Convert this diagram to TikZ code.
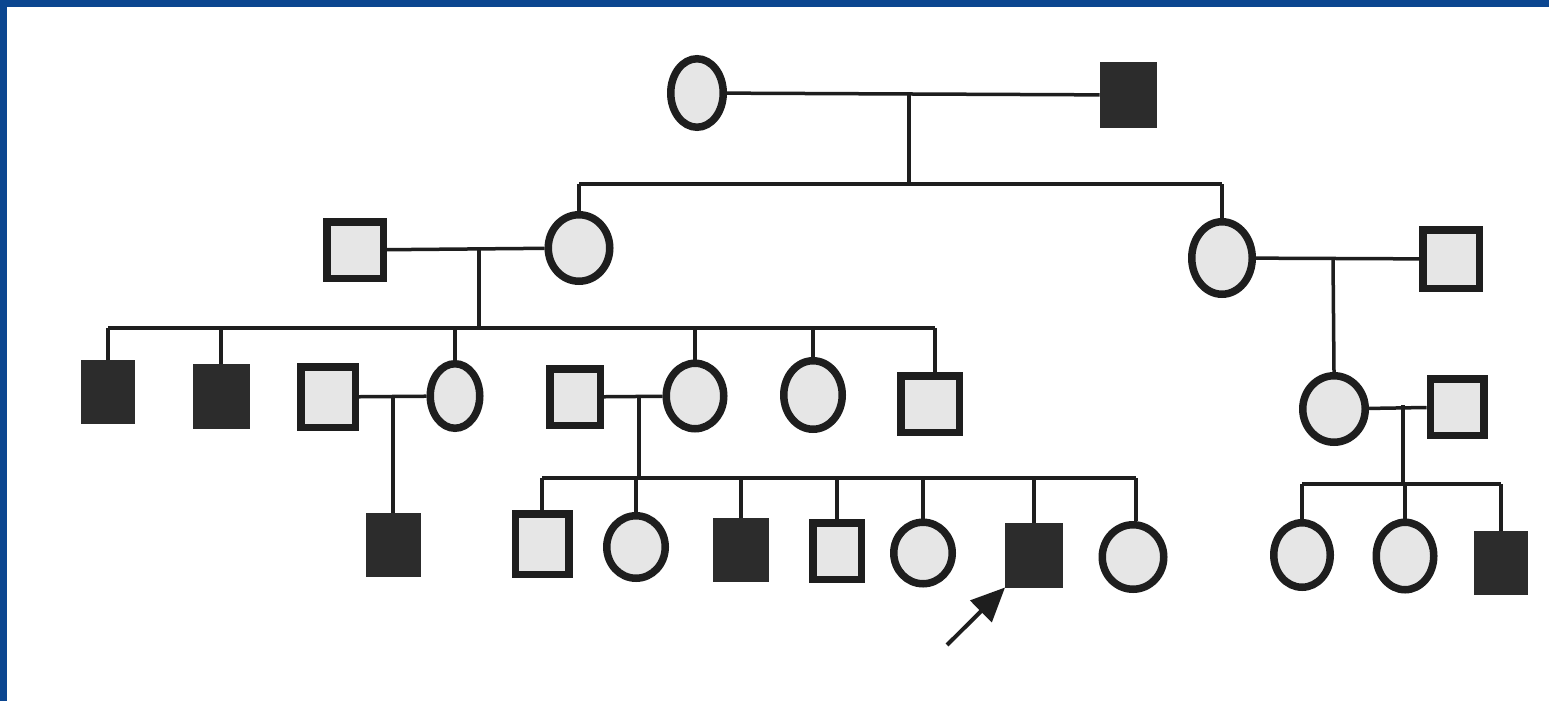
\documentclass[tikz,border=0pt]{standalone}
\usetikzlibrary{shapes.geometric,arrows.meta}
\definecolor{ink}{HTML}{1E1E1E}
\definecolor{dark}{HTML}{2C2C2C}
\definecolor{paper}{HTML}{E6E6E6}
\definecolor{frame}{HTML}{0B4690}
\tikzset{
  unsq/.style n args={2}{draw=ink, fill=paper, line width=7.5pt, rectangle, inner sep=0pt,
     minimum width=#1pt-7.5pt, minimum height=#2pt-7.5pt},
  uncirc/.style n args={2}{draw=ink, fill=paper, line width=7.5pt, ellipse, inner sep=0pt,
     minimum width=#1pt-7.5pt, minimum height=#2pt-7.5pt},
  affsq/.style n args={2}{draw=dark, fill=dark, line width=1pt, rectangle, inner sep=0pt,
     minimum width=#1pt-1pt, minimum height=#2pt-1pt},
  link/.style={draw=ink, line width=3.5pt},
  pointer/.style={draw=ink, line width=4pt, -{Triangle[length=34pt,width=30pt]}}
}
\begin{document}
\begin{tikzpicture}[x=1pt,y=-1pt]
\useasboundingbox (0,0) rectangle (1549,701);
\fill[white] (0,0) rectangle (1549,701);
\fill[frame] (0,0) rectangle (1549,7);
\fill[frame] (0,0) rectangle (7,701);

% levels of sibship lines
\coordinate (L2) at (0,184);
\coordinate (L3) at (0,328);
\coordinate (L4) at (0,478);
\coordinate (L4r) at (0,484);

% Generation I
\node[uncirc={60}{76}] (c1) at (697,93) {};
\node[affsq={57}{66}] (s1) at (1128,95) {};
% Generation II
\node[unsq={64}{64}] (s2) at (355,250) {};
\node[uncirc={69}{74}] (c2) at (579,248) {};
\node[uncirc={68}{80}] (c3) at (1222,258) {};
\node[unsq={64}{66}] (s3) at (1451,259) {};
% Generation III left
\node[affsq={54}{64}] (a1) at (108,392) {};
\node[affsq={57}{65}] (a2) at (221,396) {};
\node[unsq={62}{68}] (s4) at (328,397) {};
\node[uncirc={57}{72}] (c4) at (455,396) {};
\node[unsq={58}{64}] (s5) at (575,397) {};
\node[uncirc={65}{73}] (c5) at (695,396) {};
\node[uncirc={66}{76}] (c6) at (813,395) {};
\node[unsq={66}{64}] (s6) at (930,404) {};
% Generation III right
\node[uncirc={70}{74}] (c7) at (1334,409) {};
\node[unsq={61}{64}] (s7) at (1457,407) {};
% Generation IV
\node[affsq={55}{64}] (a3) at (393,545) {};
\node[unsq={61}{68}] (s8) at (542,544) {};
\node[uncirc={66}{70}] (c8) at (636,547) {};
\node[affsq={56}{64}] (a4) at (741,550) {};
\node[unsq={56}{64}] (s9) at (837,551) {};
\node[uncirc={66}{69}] (c9) at (923,553) {};
\node[affsq={58}{65}] (a5) at (1034,555) {};
\node[uncirc={69}{72}] (c10) at (1133,557) {};
\node[uncirc={64}{72}] (c11) at (1302,555) {};
\node[uncirc={65}{75}] (c12) at (1405,556) {};
\node[affsq={54}{64}] (a6) at (1501,563) {};

% marriage points
\coordinate (m1) at (909,95);
\coordinate (m2) at (479,250);
\coordinate (m3) at (1333,259);
\coordinate (m4) at (393,396);
\coordinate (m5) at (639,397);
\coordinate (m6) at (1403,405);

% Generation I
\draw[link] (c1) -- (s1);
\draw[link] (m1) -- (m1 |- L2);
\draw[link] (c2.north |- L2) -- (c3.north |- L2);
\draw[link] (c2.north) -- (c2.north |- L2);
\draw[link] (c3.north) -- (c3.north |- L2);
% Generation II
\draw[link] (s2) -- (c2);
\draw[link] (m2) -- (m2 |- L3);
\draw[link] (c3) -- (s3);
\draw[link] (m3) -- (c7.north);
% Generation III sibship
\draw[link] (a1.north |- L3) -- ([xshift=5pt]s6.north |- L3);
\foreach \n in {a1,a2,c4,c5,c6} {\draw[link] (\n.north) -- (\n.north |- L3);}
\draw[link] ([xshift=5pt]s6.north) -- ([xshift=5pt]s6.north |- L3);
% Generation III marriages
\draw[link] (s4) -- (c4);
\draw[link] (m4) -- (a3.north);
\draw[link] (s5) -- (c5);
\draw[link] (m5) -- (m5 |- L4);
\draw[link] (c7) -- (s7);
\draw[link] (m6) -- (m6 |- L4r);
% Generation IV sibships
\draw[link] (s8.north |- L4) -- ([xshift=3pt]c10.north |- L4);
\foreach \n in {s8,c8,a4,s9,c9,a5} {\draw[link] (\n.north) -- (\n.north |- L4);}
\draw[link] ([xshift=3pt]c10.north) -- ([xshift=3pt]c10.north |- L4);
\draw[link] (c11.north |- L4r) -- (a6.north |- L4r);
\foreach \n in {c11,c12,a6} {\draw[link] (\n.north) -- (\n.north |- L4r);}

% proband arrow
\coordinate (tail) at (947,645);
\draw[pointer] (tail) -- (a5.south west);
\end{tikzpicture}
\end{document}
